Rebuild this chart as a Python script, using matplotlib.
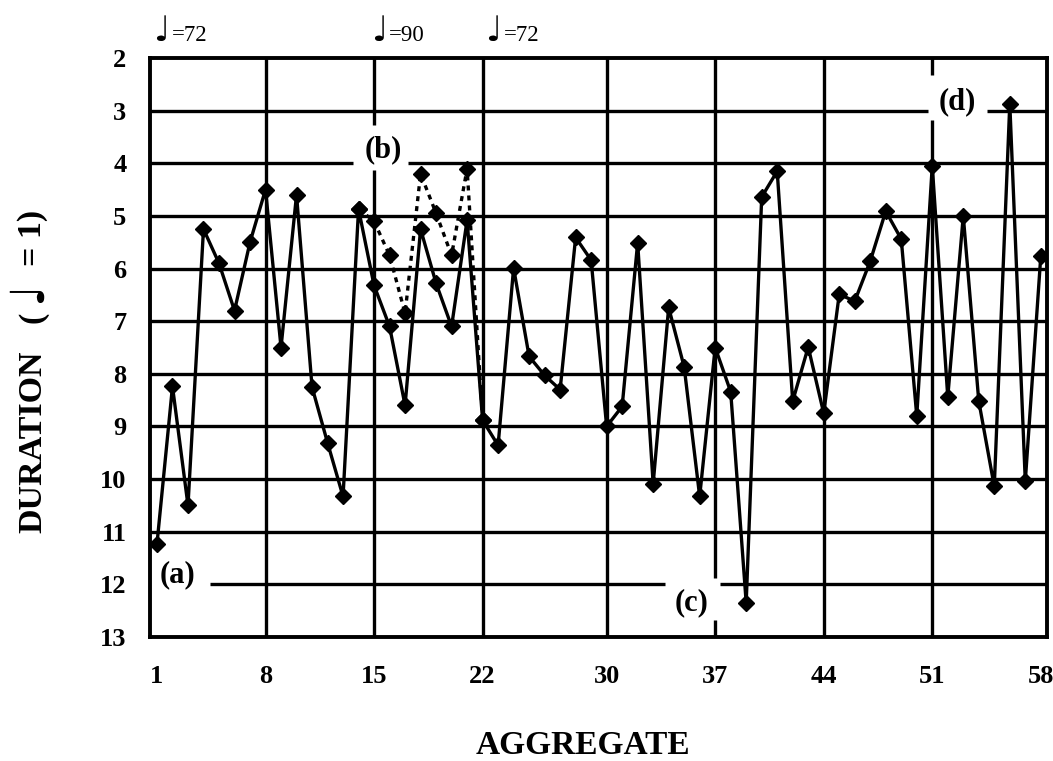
import matplotlib.pyplot as plt
import numpy as np

plt.rcParams['font.family'] = ['Liberation Serif', 'DejaVu Sans']

# duration of each aggregate (solid line)
aggregate = np.arange(1, 59)
duration = [11.23, 8.24, 10.5, 5.25, 5.9, 6.8, 5.5, 4.5, 7.5, 4.6,
            8.25, 9.31, 10.33, 4.87, 6.32, 7.1, 8.6, 5.25, 6.28, 7.1,
            5.08, 8.88, 9.36, 5.99, 7.67, 8.03, 8.3, 5.41, 5.84, 9.0,
            8.62, 5.51, 10.09, 6.74, 7.87, 10.33, 7.5, 8.34, 12.35, 4.64,
            4.15, 8.52, 7.49, 8.75, 6.49, 6.62, 5.86, 4.91, 5.44, 8.8,
            4.05, 8.44, 5.0, 8.52, 10.14, 2.87, 10.04, 5.76]

# alternative durations at tempo 90 (dotted line)
alt_aggregate = np.arange(14, 23)
alt_duration = [4.87, 5.1, 5.75, 6.85, 4.2, 4.95, 5.75, 4.1, 8.88]

x_ticks = [1, 8, 15, 22, 30, 37, 44, 51, 58]
y_ticks = list(range(2, 14))

tempo_x = [1, 15, 22.4]
tempo_values = ['=72', '=90', '=72']

note_labels = ['(a)', '(b)', '(c)', '(d)']
note_x = [2.35, 15.57, 35.5, 52.6]
note_y = [11.82, 3.75, 12.34, 2.84]

NOTE = '\u2669'
XMIN, XMAX = 0.55, 58.4
YMIN, YMAX = 2, 13

# gaps left in the grid around the labels
h_gaps = {12: [(XMIN, 4.4), (33.75, 37.3)], 4: [(13.64, 17.2)], 3: [(50.7, 54.5)]}
v_gaps = {15: [(3.27, 4.13)], 37: [(11.87, 12.68)], 51: [(2.32, 3.18)]}


def segments(lo, hi, gaps):
    """Split [lo, hi] into pieces that skip the gaps."""
    pieces = []
    start = lo
    for g0, g1 in sorted(gaps):
        if g0 > start:
            pieces.append((start, g0))
        start = max(start, g1)
    if start < hi:
        pieces.append((start, hi))
    return pieces


def fx(px):
    return px / 1053


def fy(py):
    return 1 - py / 761


fig = plt.figure(figsize=(10.53, 7.61), dpi=100)
ax = fig.add_axes([fx(150), fy(637), 897 / 1053, 579 / 761])

for y in y_ticks[1:-1]:
    for a, b in segments(XMIN, XMAX, h_gaps.get(y, [])):
        ax.plot([a, b], [y, y], color='black', lw=2.4, zorder=1,
                solid_capstyle='butt')
for x in x_ticks[1:-1]:
    for a, b in segments(YMIN, YMAX, v_gaps.get(x, [])):
        ax.plot([x, x], [a, b], color='black', lw=2.4, zorder=1,
                solid_capstyle='butt')

ax.plot(alt_aggregate, alt_duration, color='black', lw=2.4,
        linestyle=(0, (1.5, 1.5)), marker='D', markersize=8.5, zorder=3)
ax.plot(aggregate, duration, color='black', lw=2.4,
        marker='D', markersize=8.5, zorder=4)

for label, x, y in zip(note_labels, note_x, note_y):
    ax.text(x, y, label, ha='center', va='center', fontsize=22,
            fontweight='bold', zorder=5)

# tempo marks above the frame: note glyph + value
for x, t in zip(tempo_x, tempo_values):
    ax.annotate(NOTE, xy=(x, 1.68), xycoords='data', xytext=(-2.5, 0),
                textcoords='offset points', ha='left', va='baseline',
                fontsize=25, family='DejaVu Sans', annotation_clip=False)
    ax.annotate(t, xy=(x, 1.68), xycoords='data', xytext=(10.5, 0),
                textcoords='offset points', ha='left', va='baseline',
                fontsize=16.5, annotation_clip=False)

ax.set_xlim(XMIN, XMAX)
ax.set_ylim(YMAX, YMIN)
ax.set_xticks(x_ticks)
ax.set_yticks(y_ticks)
ax.tick_params(length=0, labelsize=19)
ax.tick_params(axis='x', pad=20)
ax.tick_params(axis='y', pad=17)
for lbl in ax.get_xticklabels() + ax.get_yticklabels():
    lbl.set_fontweight('bold')
for s in ax.spines.values():
    s.set_linewidth(2.8)

# y axis title, built from pieces so the note can be larger
fig.text(fx(33), fy(533), 'DURATION', rotation=90, ha='center', va='bottom',
         fontsize=24.5, fontweight='bold')
fig.text(fx(33), fy(317), '(', rotation=90, ha='center', va='center',
         fontsize=24.5, fontweight='bold')
fig.text(fx(28), fy(292), NOTE, rotation=90, ha='center', va='center',
         fontsize=34, family='DejaVu Sans')
fig.text(fx(33), fy(238), '= 1)', rotation=90, ha='center', va='center',
         fontsize=24.5, fontweight='bold')

fig.text(fx(583), fy(745), 'AGGREGATE', ha='center', va='center',
         fontsize=24, fontweight='bold')

fig.savefig('out.png', dpi=100)
